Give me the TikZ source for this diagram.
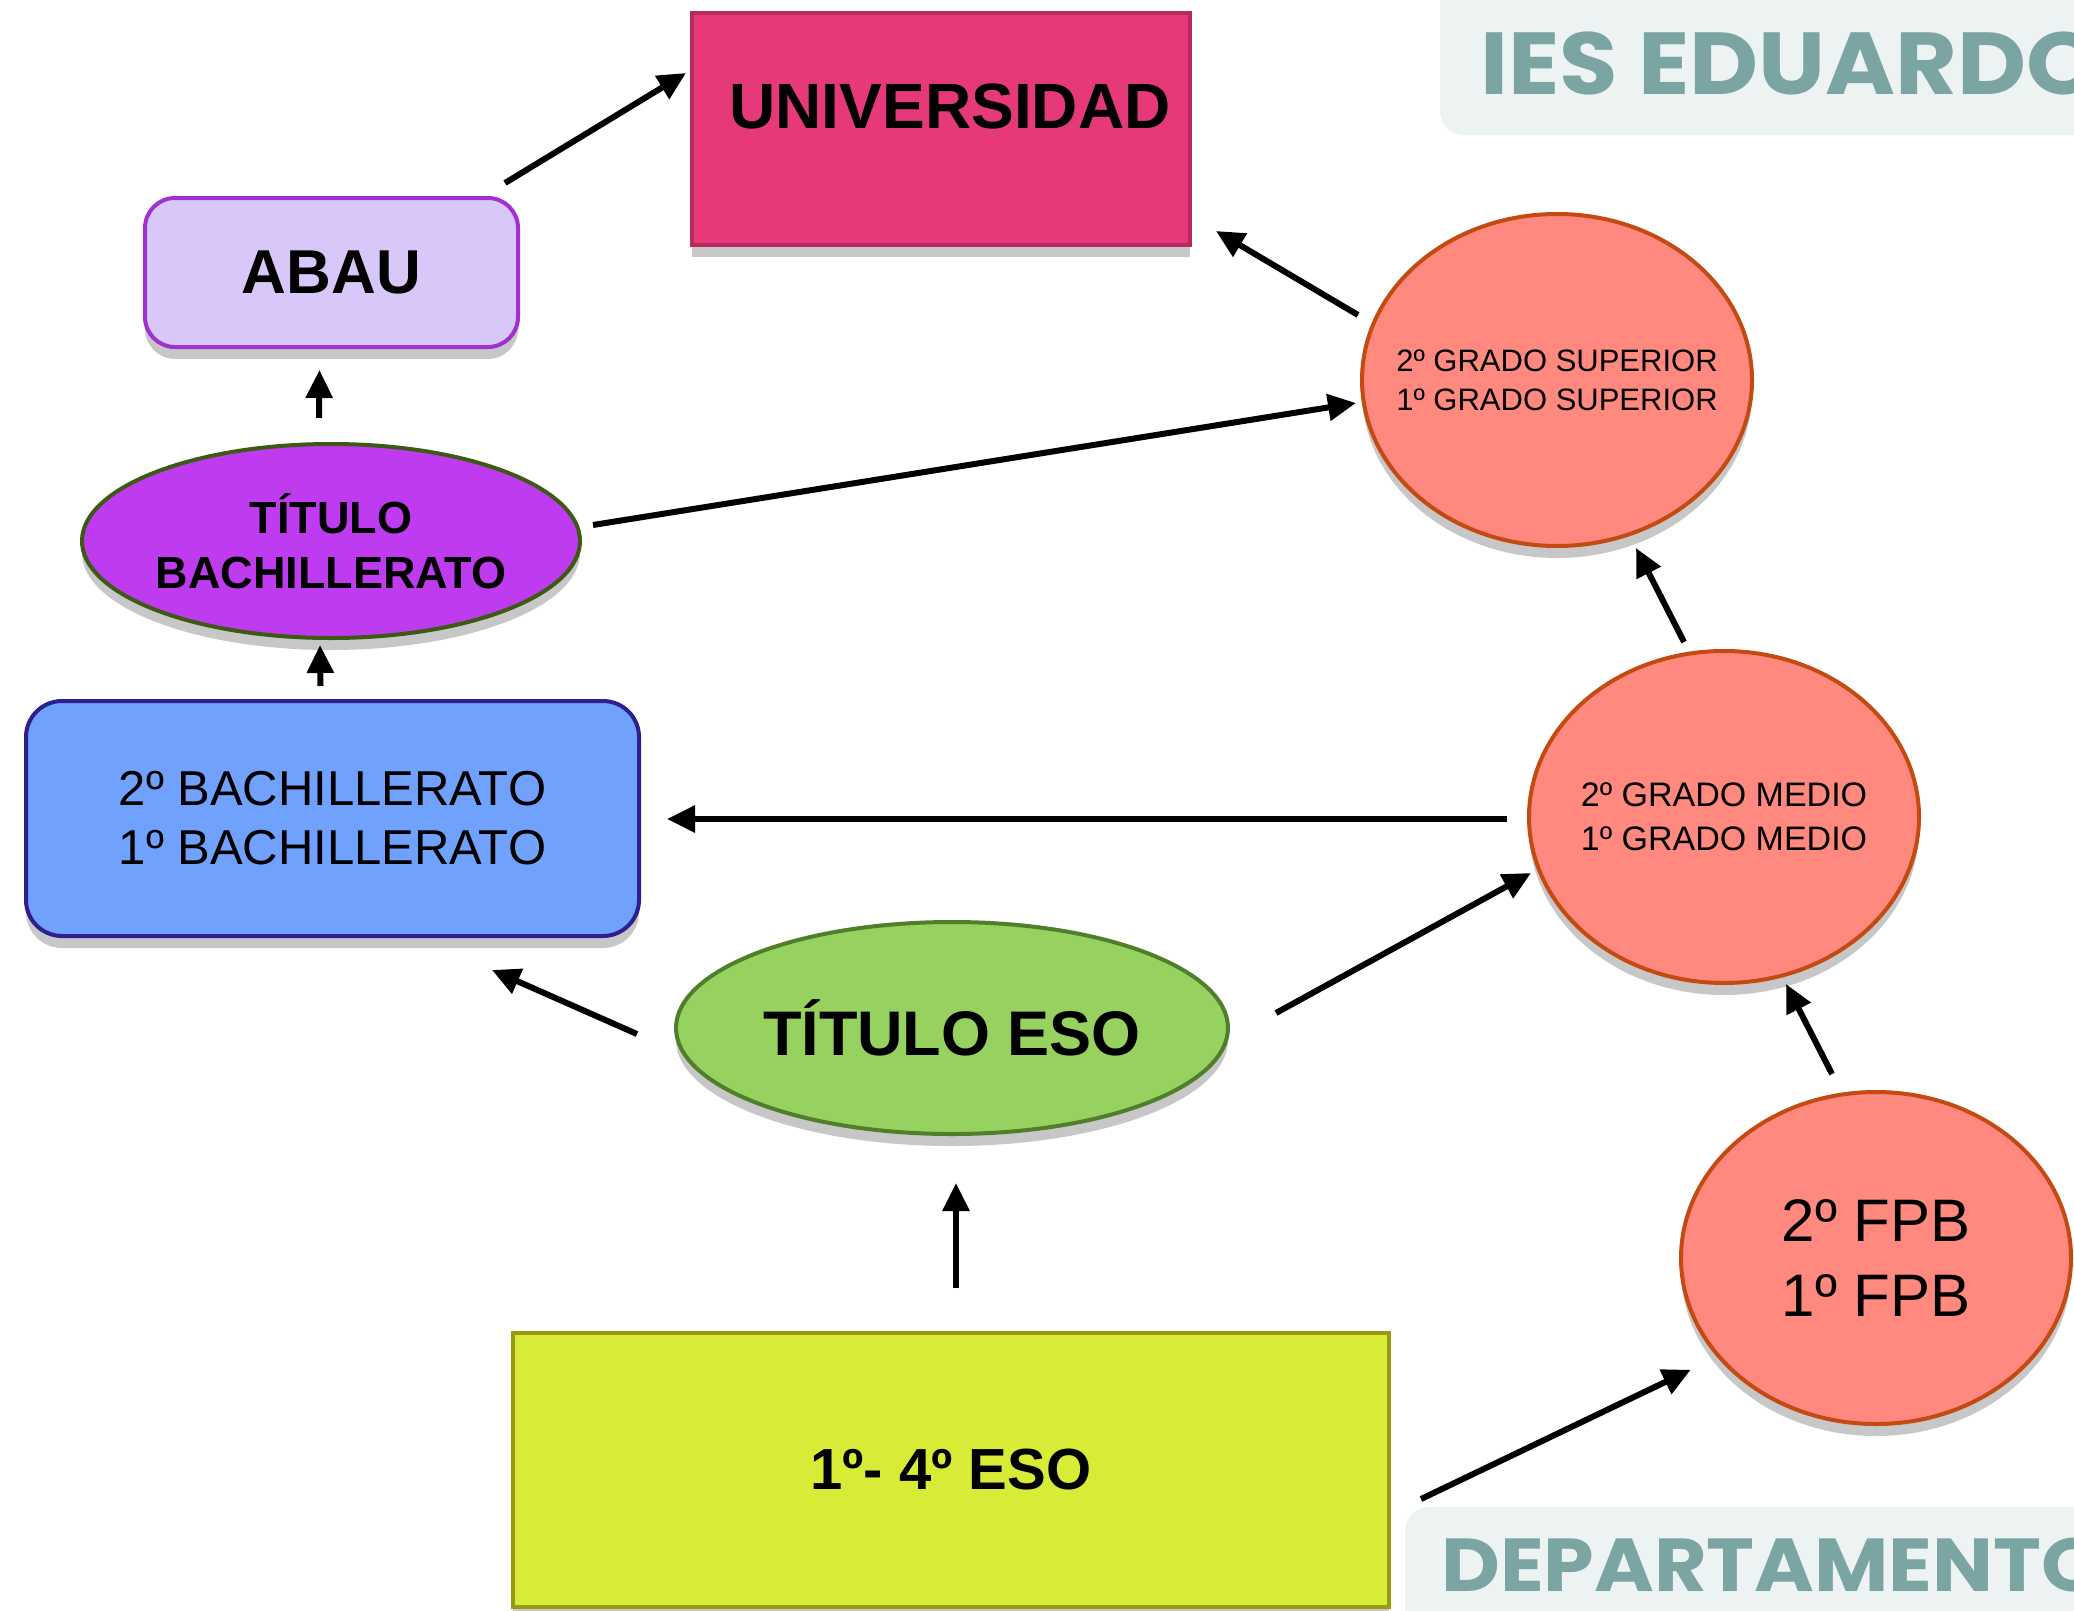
\documentclass[tikz,border=0pt]{standalone}
\usepackage{fontspec}
\setmainfont{Liberation Sans}
\newfontfamily\hdrfont{Poppins}[FakeStretch=1.08]
\usetikzlibrary{shapes.geometric,arrows.meta,calc,shadows}
\definecolor{univfill}{HTML}{E5397A}
\definecolor{univdraw}{HTML}{B82A5E}
\definecolor{abaufill}{HTML}{D8C8FA}
\definecolor{abaudraw}{HTML}{A030D0}
\definecolor{tbachfill}{HTML}{BF3BF0}
\definecolor{tbachdraw}{HTML}{3C5A14}
\definecolor{bachfill}{HTML}{6FA1FD}
\definecolor{bachdraw}{HTML}{2E1F8C}
\definecolor{tesofill}{HTML}{97D160}
\definecolor{tesodraw}{HTML}{4F7F2A}
\definecolor{esofill}{HTML}{D8EB37}
\definecolor{esodraw}{HTML}{9A9A12}
\definecolor{circfill}{HTML}{FF897E}
\definecolor{circdraw}{HTML}{C54A12}
\definecolor{hdrbg}{HTML}{EDF2F2}
\definecolor{hdrtext}{HTML}{7BA5A2}
\begin{document}
\begin{tikzpicture}[x=1pt,y=-1pt,
  box/.style={draw, line width=4pt, inner sep=0pt, align=center, text=black,
    drop shadow={shadow xshift=0pt, shadow yshift=-12pt, opacity=0.22, fill=black}},
  ell/.style={box, ellipse},
  circnode/.style={ell, fill=circfill, draw=circdraw, minimum width=390pt, minimum height=332pt},
  arr/.style={line width=6pt, -{Triangle[length=28pt,width=26pt]}},
  hdrlabel/.style={anchor=base west, inner sep=0pt, text=hdrtext, font=\hdrfont\bfseries}
]
\useasboundingbox (0,0) rectangle (2074,1611);
\clip (0,0) rectangle (2074,1611);
\fill[white] (0,0) rectangle (2074,1611);

% header and footer
\fill[hdrbg, rounded corners=24pt] (1440,-40) rectangle (2140,135);
\node[hdrlabel, font=\hdrfont\bfseries\fontsize{88}{90}\selectfont] (hdr) at (1480,95) {IES EDUARDO};
\fill[hdrbg, rounded corners=24pt] (1405,1507) rectangle (2140,1680);
\node[hdrlabel, font=\hdrfont\bfseries\fontsize{75}{78}\selectfont] (ftr) at (1441,1591) {DEPARTAMENTO};

% nodes
\node[box, fill=univfill, draw=univdraw, minimum width=498pt, minimum height=232pt,
  font=\bfseries\fontsize{64}{70}\selectfont, text depth=46pt] (univ) at (941,129) {\hspace*{18pt}UNIVERSIDAD};
\node[box, fill=abaufill, draw=abaudraw, rounded corners=30pt, minimum width=373pt, minimum height=149pt,
  font=\bfseries\fontsize{62}{70}\selectfont] (abau) at (331.5,272.5) {ABAU};
\node[ell, fill=tbachfill, draw=tbachdraw, minimum width=498pt, minimum height=194pt,
  label={[font=\bfseries\fontsize{45}{55}\selectfont, align=center, inner sep=0pt]center:TÍTULO\\BACHILLERATO}] (tbach) at (331,541) {};
\node[box, fill=bachfill, draw=bachdraw, rounded corners=36pt, minimum width=613pt, minimum height=235pt,
  font=\fontsize{49}{59}\selectfont] (bach) at (332.5,818.5) {2º BACHILLERATO\\1º BACHILLERATO};
\node[ell, fill=tesofill, draw=tesodraw, minimum width=552pt, minimum height=212pt,
  font=\bfseries\fontsize{63}{70}\selectfont] (teso) at (952,1028) {TÍTULO ESO};
\node[box, fill=esofill, draw=esodraw, minimum width=876pt, minimum height=274pt,
  font=\bfseries\fontsize{58}{64}\selectfont] (eso) at (951,1470) {1º- 4º ESO};
\node[circnode, label={[font=\fontsize{31}{39}\selectfont, align=center, inner sep=0pt]center:2º GRADO SUPERIOR\\1º GRADO SUPERIOR}] (gsup) at (1557,380) {};
\node[circnode, label={[font=\fontsize{34}{44}\selectfont, align=center, inner sep=0pt]center:2º GRADO MEDIO\\1º GRADO MEDIO}] (gmed) at (1724,817) {};
\node[circnode, label={[font=\fontsize{60}{75}\selectfont, align=center, inner sep=0pt]center:2º FPB\\1º FPB}] (fpb) at (1876,1258) {};

% connectors
\draw[arr] ($(abau.north east)+(-15,-13)$) -- ($(univ.west)+(-4,-56)$);
\draw[arr] ($(gsup.west)+(-2,-65)$) -- ($(univ.south east)+(24,-16)$);
\draw[arr] ($(tbach.east)+(11,-16)$) -- ($(gsup.west)+(-4,23)$);
\draw[arr] ($(tbach.north)+(-12,-24)$) -- ($(abau.south)+(-12,21)$);
\draw[arr] ($(bach.north)+(-12,-13)$) -- ($(tbach.south)+(-11,5)$);
\draw[arr] ($(gmed.west)+(-20,2)$) -- ($(bach.east)+(26,0.5)$);
\draw[arr] ($(teso.west)+(-37,6)$) -- ($(bach.south)+(159.5,32)$);
\draw[arr] ($(teso.east)+(46,-15)$) -- ($(gmed.west)+(4,56)$);
\draw[arr] ($(gmed.north)+(-40,-7)$) -- ($(gsup.south)+(79,0)$);
\draw[arr] ($(eso.north)+(5,-43)$) -- ($(teso.south)+(4,47)$);
\draw[arr] ($(fpb.north)+(-44,-16)$) -- ($(gmed.south)+(62,-1)$);
\draw[arr] ($(eso.east)+(30,29)$) -- ($(fpb.south west)+(-46,-7)$);
\end{tikzpicture}
\end{document}
